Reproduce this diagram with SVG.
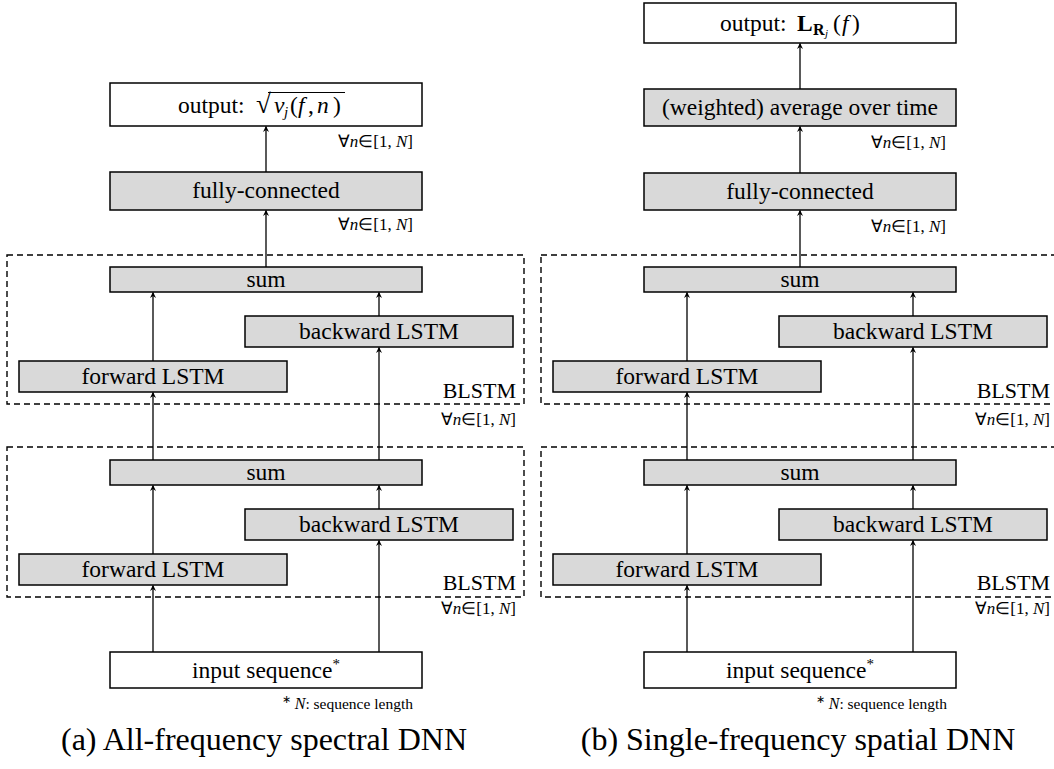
<svg xmlns="http://www.w3.org/2000/svg" width="1054" height="769" viewBox="0 0 1054 769">
<style>
.w{fill:#fff;stroke:#000;stroke-width:1.5}
.g{fill:#d9d9d9;stroke:#000;stroke-width:1.5}
.d{fill:none;stroke:#000;stroke-width:1.4;stroke-dasharray:6 4}
text{fill:#000}
.t{font-size:23.5px;text-anchor:middle}
.o{font-size:23.5px}
.s{font-size:17px;text-anchor:end}
.f{font-size:15.5px;text-anchor:end}
.c{font-size:32px;text-anchor:middle}
.b{font-size:22px;text-anchor:end}
.e{stroke:#000;stroke-width:1.3;fill:none;marker-end:url(#ah)}
</style>
<defs>
<marker id="ah" viewBox="0 0 10 10" refX="9" refY="5" markerWidth="6" markerHeight="7" markerUnits="userSpaceOnUse" orient="auto">
<path d="M0,0 L10,5 L0,10 L3,5 Z" fill="#000"/>
</marker>
</defs>
<rect width="1054" height="769" fill="#fff"/>

<g font-family="Liberation Serif, serif">
<!-- Panel (a) -->
<g id="a-blstm1"><rect class="d" x="7" y="255" width="517" height="149"/><text class="b" x="516" y="398">BLSTM</text></g>
<g id="a-blstm2"><rect class="d" x="7" y="447" width="517" height="150"/><text class="b" x="516" y="590">BLSTM</text></g>
<g id="a-output"><rect class="w" x="110" y="83" width="312" height="43"/>
<text class="o" y="113"><tspan x="178">output:</tspan><tspan x="256" font-size="27">√</tspan><tspan x="274" font-style="italic">v</tspan><tspan x="284" font-style="italic" font-size="15" dy="4">j</tspan><tspan x="290" dy="-4">(</tspan><tspan x="298" font-style="italic">f</tspan><tspan x="308">,</tspan><tspan x="317" font-style="italic">n</tspan><tspan x="333">)</tspan></text>
<line x1="268" y1="92.5" x2="345" y2="92.5" stroke="#000" stroke-width="1.1"/></g>
<g id="a-fc"><rect class="g" x="110" y="172" width="312" height="38"/><text class="t" x="266" y="198">fully-connected</text></g>
<g id="a-sum1"><rect class="g" x="110" y="267" width="312" height="25"/><text class="t" x="266" y="287">sum</text></g>
<g id="a-bw1"><rect class="g" x="245" y="316" width="268" height="31"/><text class="t" x="379" y="339">backward LSTM</text></g>
<g id="a-fw1"><rect class="g" x="19" y="361" width="268" height="31"/><text class="t" x="153" y="384">forward LSTM</text></g>
<g id="a-sum2"><rect class="g" x="110" y="460" width="312" height="25"/><text class="t" x="266" y="480">sum</text></g>
<g id="a-bw2"><rect class="g" x="245" y="509" width="268" height="31"/><text class="t" x="379" y="532">backward LSTM</text></g>
<g id="a-fw2"><rect class="g" x="19" y="554" width="268" height="31"/><text class="t" x="153" y="577">forward LSTM</text></g>
<g id="a-input"><rect class="w" x="110" y="652" width="312" height="36"/><text class="t" x="266" y="678">input sequence<tspan font-size="15" dy="-9">*</tspan></text></g>
<g id="a-labels">
<text class="s" x="413" y="147">∀<tspan font-style="italic">n</tspan>∈[1, <tspan font-style="italic">N</tspan>]</text>
<text class="s" x="413" y="230">∀<tspan font-style="italic">n</tspan>∈[1, <tspan font-style="italic">N</tspan>]</text>
<text class="s" x="516" y="425">∀<tspan font-style="italic">n</tspan>∈[1, <tspan font-style="italic">N</tspan>]</text>
<text class="s" x="516" y="614">∀<tspan font-style="italic">n</tspan>∈[1, <tspan font-style="italic">N</tspan>]</text>
<text class="f" x="413" y="709"><tspan font-size="11" dy="-6">∗</tspan><tspan dy="6" font-style="italic" font-size="16"> N</tspan>: sequence length</text>
<text class="c" x="264" y="750">(a) All-frequency spectral DNN</text>
</g>

<!-- Panel (b) -->
<g id="b-blstm1"><rect class="d" x="541" y="255" width="530" height="149"/><text class="b" x="1050" y="398">BLSTM</text></g>
<g id="b-blstm2"><rect class="d" x="541" y="447" width="530" height="150"/><text class="b" x="1050" y="590">BLSTM</text></g>
<g id="b-output"><rect class="w" x="644" y="3" width="312" height="40"/>
<text class="o" y="31"><tspan x="720">output:</tspan><tspan x="797" font-weight="bold">L</tspan><tspan x="813" font-weight="bold" font-size="16" dy="4">R</tspan><tspan x="825" font-style="italic" font-size="11" dy="2">j</tspan><tspan x="833" dy="-6">(</tspan><tspan x="842" font-style="italic">f</tspan><tspan x="852">)</tspan></text></g>
<g id="b-avg"><rect class="g" x="644" y="89" width="312" height="37"/><text class="t" x="800" y="115">(weighted) average over time</text></g>
<g id="b-fc"><rect class="g" x="644" y="173" width="312" height="37"/><text class="t" x="800" y="199">fully-connected</text></g>
<g id="b-sum1"><rect class="g" x="644" y="267" width="312" height="25"/><text class="t" x="800" y="287">sum</text></g>
<g id="b-bw1"><rect class="g" x="779" y="316" width="268" height="31"/><text class="t" x="913" y="339">backward LSTM</text></g>
<g id="b-fw1"><rect class="g" x="553" y="361" width="268" height="31"/><text class="t" x="687" y="384">forward LSTM</text></g>
<g id="b-sum2"><rect class="g" x="644" y="460" width="312" height="25"/><text class="t" x="800" y="480">sum</text></g>
<g id="b-bw2"><rect class="g" x="779" y="509" width="268" height="31"/><text class="t" x="913" y="532">backward LSTM</text></g>
<g id="b-fw2"><rect class="g" x="553" y="554" width="268" height="31"/><text class="t" x="687" y="577">forward LSTM</text></g>
<g id="b-input"><rect class="w" x="644" y="652" width="312" height="36"/><text class="t" x="800" y="678">input sequence<tspan font-size="15" dy="-9">*</tspan></text></g>
<g id="b-labels">
<text class="s" x="946" y="148">∀<tspan font-style="italic">n</tspan>∈[1, <tspan font-style="italic">N</tspan>]</text>
<text class="s" x="946" y="232">∀<tspan font-style="italic">n</tspan>∈[1, <tspan font-style="italic">N</tspan>]</text>
<text class="s" x="1050" y="425">∀<tspan font-style="italic">n</tspan>∈[1, <tspan font-style="italic">N</tspan>]</text>
<text class="s" x="1050" y="614">∀<tspan font-style="italic">n</tspan>∈[1, <tspan font-style="italic">N</tspan>]</text>
<text class="f" x="947" y="709"><tspan font-size="11" dy="-6">∗</tspan><tspan dy="6" font-style="italic" font-size="16"> N</tspan>: sequence length</text>
<text class="c" x="798" y="750">(b) Single-frequency spatial DNN</text>
</g>
</g>

<g id="connectors">
<line class="e" x1="266" y1="172" x2="266" y2="126.5"/>
<line class="e" x1="266" y1="267" x2="266" y2="210.5"/>
<line class="e" x1="153" y1="361" x2="153" y2="292.5"/>
<line class="e" x1="379" y1="316" x2="379" y2="292.5"/>
<line class="e" x1="153" y1="460" x2="153" y2="392.5"/>
<line class="e" x1="379" y1="460" x2="379" y2="347.5"/>
<line class="e" x1="153" y1="554" x2="153" y2="485.5"/>
<line class="e" x1="379" y1="509" x2="379" y2="485.5"/>
<line class="e" x1="153" y1="652" x2="153" y2="585.5"/>
<line class="e" x1="379" y1="652" x2="379" y2="540.5"/>
<line class="e" x1="800" y1="89" x2="800" y2="43.5"/>
<line class="e" x1="800" y1="173" x2="800" y2="126.5"/>
<line class="e" x1="800" y1="267" x2="800" y2="210.5"/>
<line class="e" x1="687" y1="361" x2="687" y2="292.5"/>
<line class="e" x1="913" y1="316" x2="913" y2="292.5"/>
<line class="e" x1="687" y1="460" x2="687" y2="392.5"/>
<line class="e" x1="913" y1="460" x2="913" y2="347.5"/>
<line class="e" x1="687" y1="554" x2="687" y2="485.5"/>
<line class="e" x1="913" y1="509" x2="913" y2="485.5"/>
<line class="e" x1="687" y1="652" x2="687" y2="585.5"/>
<line class="e" x1="913" y1="652" x2="913" y2="540.5"/>
</g>
</svg>
